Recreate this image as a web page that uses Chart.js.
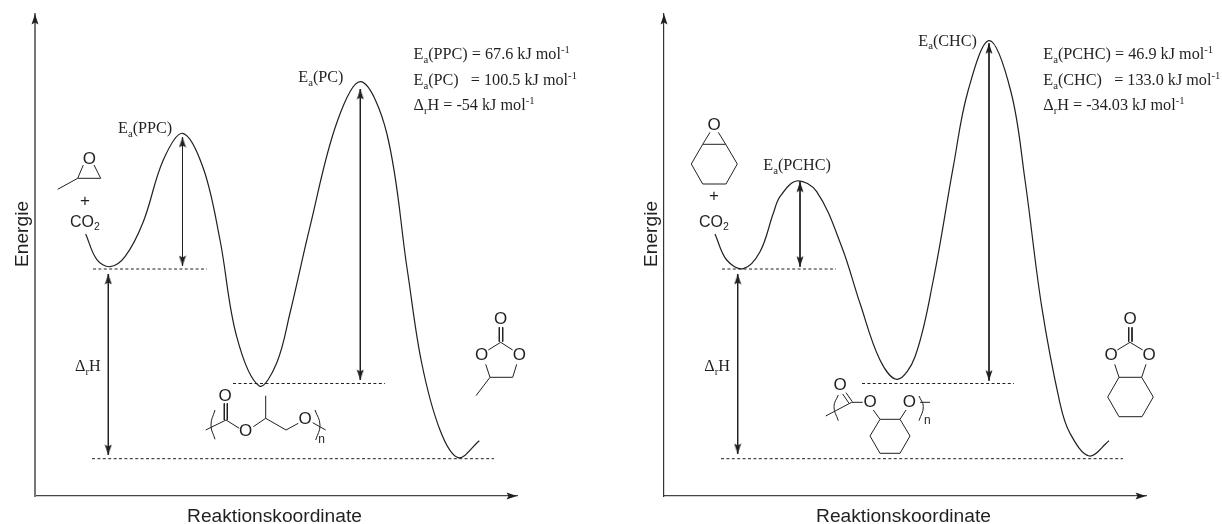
<!DOCTYPE html>
<html>
<head>
<meta charset="utf-8">
<title>Reaktionskoordinate</title>
<script src="https://cdn.jsdelivr.net/npm/chart.js@4"></script>
<style>
  html, body { margin: 0; padding: 0; background: #fff; overflow: hidden; }
  #left-panel { position: absolute; left: 0; top: 0; }
  #right-panel { position: absolute; left: 629px; top: 0; }
</style>
</head>
<body>
<canvas id="left-panel" width="629" height="524"></canvas>
<canvas id="right-panel" width="593" height="524"></canvas>
<script>

// PPC / PC energy profile
const ppcCurveX = [50.7, 61.7, 75, 90, 108.3, 128.3, 147.7, 168.3, 185, 201.7, 224.3, 241.7, 255, 275, 301.7, 326, 351.7, 372.3, 386.7, 405, 423.3, 444.3];
const ppcCurveY = [262, 236.7, 229.3, 239.3, 274.3, 336, 362.7, 327.7, 256, 159.3, 110, 133, 183, 269.3, 373, 414.3, 363, 226, 133, 66, 38.3, 55.3];

// PCHC / CHC energy profile
const chcCurveX = [51, 62.7, 79.3, 96, 109.3, 116, 132.7, 152.7, 177.7, 196, 216, 233.3, 251, 269.3, 289.3, 304, 325.3, 347, 361, 377.7, 396, 406, 425.3, 445];
const chcCurveY = [262, 236, 227.3, 244.3, 282.7, 299.3, 315, 304.3, 249.3, 192.7, 136, 116.7, 139.3, 216, 329.3, 405, 455.3, 404, 316, 189.3, 92.7, 62.7, 40, 55.3];

// dashed energy levels
const levelY = [227, 112.5, 37.3];
const levelFrom = [58, 198, 57];
const levelTo = [172, 350, 459];

// double headed arrows
const ppcArrowX = [147.5, 73.3, 325.3];
const ppcArrowTop = [359, 222, 407];
const ppcArrowBottom = [230, 41, 116];
const chcArrowX = [136, 73.7, 325];
const chcArrowTop = [314.3, 222, 452.7];
const chcArrowBottom = [229.3, 42, 115.3];

// skeletal formulas, null lifts the pen
const ppcBonds = [
  [48.3, 331], [42.7, 317.7], [65.7, 317.7], [59, 331], null,
  [42.7, 317.7], [22.7, 306.7], null,
  [189.3, 92.7], [189.3, 76], null, [192.3, 92.7], [192.3, 76], null,
  [170.7, 66], [191, 76], [204.3, 67.7], null,
  [218.3, 69.3], [230.7, 77.7], [251, 66], [263.3, 72.7], null,
  [230.7, 77.7], [230.7, 100.3], null,
  [277.7, 73.3], [290.7, 66], null,
  [464.3, 168.7], [464.3, 154.3], null, [467.7, 168.7], [467.7, 154.3], null,
  [453.3, 146], [465.7, 153.7], [477.7, 146], null,
  [450.7, 131.7], [455, 118.7], [477.7, 118.7], [481.7, 131.7], null,
  [455, 118.7], [441, 100.3]
];
const ppcBrackets = [[180, 86], [176, 71], [180, 56.7], null, [280, 86], [285, 71], [280.7, 56]];

const chcBonds = [
  [46, 363.7], [38.7, 351.7], [61.7, 351.7], [54.3, 363.7], null,
  [38.7, 351.7], [27.3, 332], [38.7, 312], [62, 312], [73.3, 332], [61.7, 351.7], null,
  [178.7, 102], [185, 92.7], null, [182, 103.3], [188.3, 94.3], null,
  [161.7, 80], [187.7, 93.7], [198.7, 93.7], null,
  [209.3, 86], [216, 76.7], [236, 76.7], [242, 86], null,
  [216, 76.7], [206, 60], [216, 42.7], [236, 42.7], [246, 60], [236, 76.7], null,
  [256, 93.7], [266, 93.7], null,
  [464.7, 168.7], [464.7, 154.3], null, [468, 168.7], [468, 154.3], null,
  [453.3, 146], [466, 153.7], [478.7, 146], null,
  [450.7, 131.7], [455, 118.7], [477.7, 118.7], [482, 131.7], null,
  [455, 118.7], [443.7, 99], [455, 79.3], [478, 79.3], [489.3, 99], [477.7, 118.7]
];
const chcBrackets = [[174.3, 101], [170, 89.3], [174.3, 75.3], null, [255, 100], [259.3, 89.3], [255, 75.3]];

// [text, x, y], _{} is subscript and ^{} superscript
const ppcNotes = [
  ['E_{a}(PPC)', 83, 363],
  ['E_{a}(PC)', 263.3, 414],
  ['E_{a}(PPC) = 67.6 kJ mol^{-1}', 378.5, 437],
  ['E_{a}(PC)   = 100.5 kJ mol^{-1}', 378.5, 411],
  ['Δ_{r}H = -54 kJ mol^{-1}', 378.5, 386],
  ['Δ_{r}H', 40, 125]
];
const chcNotes = [
  ['E_{a}(PCHC)', 99.3, 326],
  ['E_{a}(CHC)', 254.3, 450.3],
  ['E_{a}(PCHC) = 46.9 kJ mol^{-1}', 379.3, 437],
  ['E_{a}(CHC)   = 133.0 kJ mol^{-1}', 379.3, 411],
  ['Δ_{r}H = -34.03 kJ mol^{-1}', 379.3, 386],
  ['Δ_{r}H', 40.3, 125]
];

// atoms, centred on the given point
const ppcAtoms = [
  ['O', 54.3, 336.7], ['+', 50, 295],
  ['O', 190, 99.3], ['O', 210.7, 64.3], ['O', 270, 76.5],
  ['O', 465.7, 176.7], ['O', 446.7, 140.3], ['O', 484.3, 140.3]
];
const chcAtoms = [
  ['O', 50, 370.3], ['+', 50, 300],
  ['O', 176, 111], ['O', 206, 93.7], ['O', 245.3, 93.7],
  ['O', 466, 176.7], ['O', 447, 140.3], ['O', 485, 140.3]
];
const ppcRepeat = ['n', 286.7, 53];
const chcRepeat = ['n', 263.3, 72];
const carbonDioxide = ['CO_{2}', 35, 269.3];

const xTitle = 'Reaktionskoordinate';
const yTitle = 'Energie';

const INK = '#231f20';
const SERIF = '"Liberation Serif", serif';
const SANS = '"Liberation Sans", sans-serif';

function toPoints(pairs) {
  return pairs.map(p => (p ? { x: p[0], y: p[1] } : { x: null, y: null }));
}

// slim arrow head whose tip sits in the middle of the image, so a point marks the tip
function makeArrowHead() {
  const head = document.createElement('canvas');
  head.width = 8;
  head.height = 22;
  const c = head.getContext('2d');
  c.fillStyle = INK;
  c.beginPath();
  c.moveTo(4, 11);
  c.lineTo(7.5, 21.5);
  c.lineTo(4, 19.5);
  c.lineTo(0.5, 21.5);
  c.closePath();
  c.fill();
  return head;
}
const arrowHead = makeArrowHead();

// draw a string with sub and superscript parts
function drawRich(ctx, text, x, y, size, family) {
  const parts = text.split(/(_\{.*?\}|\^\{.*?\})/).filter(Boolean);
  let pen = x;
  parts.forEach(part => {
    let s = part;
    let fontSize = size;
    let shift = 0;
    if (part[0] === '_' && part[1] === '{') {
      s = part.slice(2, -1);
      fontSize = size * 0.66;
      shift = size * 0.22;
    } else if (part[0] === '^' && part[1] === '{') {
      s = part.slice(2, -1);
      fontSize = size * 0.66;
      shift = -size * 0.36;
    }
    ctx.font = `${fontSize}px ${family}`;
    ctx.fillText(s, pen, y + shift);
    pen += ctx.measureText(s).width;
  });
}

function drawPanel(id, opts) {
  const canvas = document.getElementById(id);

  const labelsPlugin = {
    id: 'diagramLabels',
    afterDatasetsDraw(chart) {
      const { ctx, scales: { x, y } } = chart;
      ctx.save();
      ctx.fillStyle = INK;
      ctx.textBaseline = 'alphabetic';
      ctx.textAlign = 'left';

      opts.notes.forEach(([t, nx, ny]) => {
        drawRich(ctx, t, x.getPixelForValue(nx), y.getPixelForValue(ny), 16.2, SERIF);
      });
      drawRich(ctx, carbonDioxide[0], x.getPixelForValue(carbonDioxide[1]), y.getPixelForValue(carbonDioxide[2]), 16, SANS);

      // atoms
      ctx.textAlign = 'center';
      ctx.textBaseline = 'middle';
      ctx.font = `17px ${SANS}`;
      opts.atoms.forEach(([t, ax, ay]) => {
        ctx.fillText(t, x.getPixelForValue(ax), y.getPixelForValue(ay));
      });

      ctx.textBaseline = 'alphabetic';
      ctx.font = `12px ${SANS}`;
      ctx.fillText(opts.repeat[0], x.getPixelForValue(opts.repeat[1]), y.getPixelForValue(opts.repeat[2]));

      // axis titles
      ctx.font = `19.2px ${SANS}`;
      ctx.fillText(xTitle, x.getPixelForValue(239.5), y.getPixelForValue(-26));
      ctx.translate(x.getPixelForValue(-7), y.getPixelForValue(262));
      ctx.rotate(-Math.PI / 2);
      ctx.fillText(yTitle, 0, 0);
      ctx.restore();
    }
  };

  // arrow shafts plus a head on each end, axis heads go in the same set
  const shafts = [];
  const tips = [];
  const tipRotation = [];
  opts.arrowX.forEach((ax, i) => {
    shafts.push([ax, opts.arrowTop[i]], [ax, opts.arrowBottom[i]], null);
    tips.push([ax, opts.arrowTop[i]], [ax, opts.arrowBottom[i]]);
    tipRotation.push(0, 180);
  });
  tips.push([482, 0], [0, 482]);
  tipRotation.push(90, 0);

  const levels = [];
  levelY.forEach((ly, i) => levels.push([levelFrom[i], ly], [levelTo[i], ly], null));

  const base = { showLine: true, pointRadius: 0, borderColor: INK, borderWidth: 1, clip: false };

  new Chart(canvas, {
    type: 'scatter',
    data: {
      datasets: [
        { ...base, label: 'Energie', data: opts.curveX.map((cx, i) => ({ x: cx, y: opts.curveY[i] })), tension: 0.36, borderWidth: 1.2 },
        { ...base, label: 'Niveaus', data: toPoints(levels), borderDash: [3, 2.4] },
        { ...base, label: 'Pfeile', data: toPoints(shafts) },
        { ...base, label: 'Bindungen', data: toPoints(opts.bonds) },
        { ...base, label: 'Klammern', data: toPoints(opts.brackets), tension: 0.45 },
        { label: 'Spitzen', data: toPoints(tips), showLine: false, pointStyle: arrowHead, pointRadius: 5, pointRotation: tipRotation, clip: false }
      ]
    },
    options: {
      responsive: false,
      animation: false,
      events: [],
      layout: { padding: { left: 35, top: 14, right: canvas.width - 517, bottom: 28 } },
      scales: {
        x: {
          type: 'linear', min: 0, max: 482,
          grid: { display: false, drawTicks: false },
          ticks: { display: false },
          border: { display: true, color: opts.xAxisColor, width: 1.2 }
        },
        y: {
          type: 'linear', min: 0, max: 482,
          grid: { display: false, drawTicks: false },
          ticks: { display: false },
          border: { display: true, color: opts.yAxisColor, width: opts.yAxisWidth }
        }
      },
      plugins: { legend: { display: false }, tooltip: { enabled: false } }
    },
    plugins: [labelsPlugin]
  });
}

drawPanel('left-panel', {
  curveX: ppcCurveX, curveY: ppcCurveY,
  arrowX: ppcArrowX, arrowTop: ppcArrowTop, arrowBottom: ppcArrowBottom,
  bonds: ppcBonds, brackets: ppcBrackets,
  notes: ppcNotes, atoms: ppcAtoms, repeat: ppcRepeat,
  xAxisColor: '#444', yAxisColor: '#777', yAxisWidth: 2
});

drawPanel('right-panel', {
  curveX: chcCurveX, curveY: chcCurveY,
  arrowX: chcArrowX, arrowTop: chcArrowTop, arrowBottom: chcArrowBottom,
  bonds: chcBonds, brackets: chcBrackets,
  notes: chcNotes, atoms: chcAtoms, repeat: chcRepeat,
  xAxisColor: '#444', yAxisColor: '#333', yAxisWidth: 1.2
});
</script>
</body>
</html>
